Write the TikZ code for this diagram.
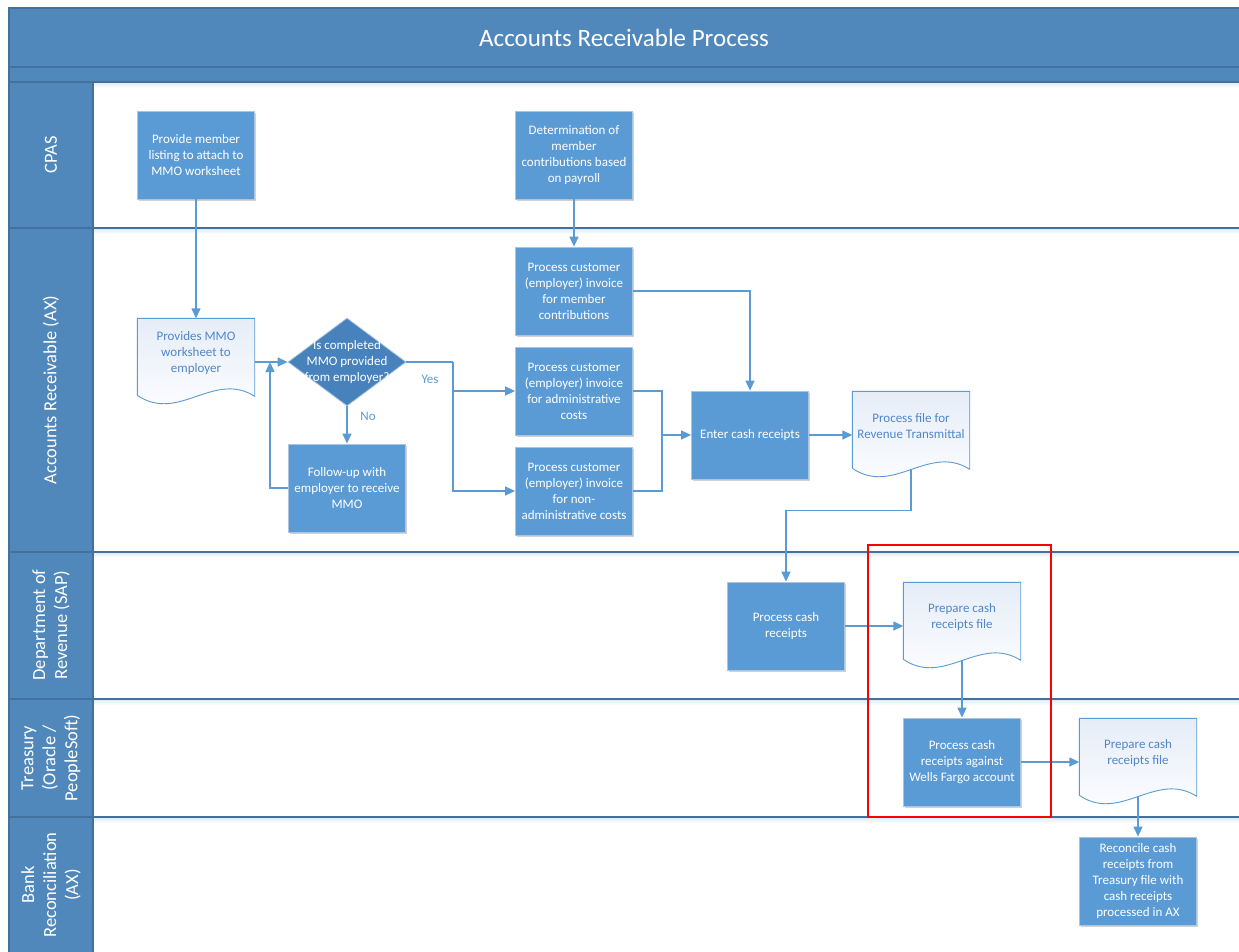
\documentclass[tikz,border=0pt]{standalone}
\usepackage{fontspec}
\setmainfont{Carlito}
\usetikzlibrary{shapes.geometric,arrows.meta,calc,shadows}
\definecolor{band}{RGB}{80,136,188}
\definecolor{laneline}{RGB}{65,113,156}
\definecolor{laneshadow}{RGB}{222,232,244}
\definecolor{boxfill}{RGB}{91,155,213}
\definecolor{boxedge}{RGB}{170,196,225}
\definecolor{diafill}{RGB}{72,130,188}
\definecolor{connc}{RGB}{91,155,213}
\definecolor{doctext}{RGB}{80,135,200}
\definecolor{docbg}{RGB}{230,237,248}

\tikzset{
  procbox/.style={rectangle, fill=boxfill, draw=boxedge, line width=0.8pt,
    minimum width=117pt, minimum height=88pt, inner sep=2pt, align=center,
    text=white, font=\fontsize{13}{16}\selectfont,
    drop shadow={shadow xshift=1.2pt, shadow yshift=-1.5pt, opacity=0.18, fill=black}},
  docbox/.style={rectangle, minimum width=117pt, minimum height=87pt, inner sep=0pt},
  docline/.style={draw=connc, line width=0.9pt, top color=docbg, bottom color=white},
  doctxt/.style={align=center, text=doctext, font=\fontsize{13}{16}\selectfont, inner sep=0pt},
  decision/.style={diamond, fill=diafill, draw=boxedge, line width=0.8pt,
    minimum width=118pt, minimum height=88pt, inner sep=0pt},
  link/.style={draw=connc, line width=1.4pt},
  arr/.style={link, -{Triangle[length=10pt,width=9pt]}},
  lanelbl/.style={rotate=90, text=white, align=center, font=\fontsize{18.5}{22}\selectfont},
  edgelbl/.style={text=connc, font=\fontsize{13}{16}\selectfont},
  sep/.style={draw=laneline, line width=1.3pt},
}

\newcommand{\docshape}[4]{%
  \node[docbox] (#1) at (#2,#3) {};
  \draw[docline] (#1.north west) -- (#1.north east) -- ($(#1.north east)+(0,78)$)
    .. controls ($(#1.north east)+(-41,52)$) and ($(#1.north west)+(41,105)$) ..
    ($(#1.north west)+(0,77)$) -- cycle;
  \coordinate (#1b) at ($(#1.north)+(0,78)$);
  \node[doctxt] (#1t) at ([yshift=9pt]#1.center) {#4};
}

\begin{document}
\begin{tikzpicture}[x=1pt,y=-1pt]
\useasboundingbox (0,0) rectangle (1239,951);
% frame
\fill[white] (0,0) rectangle (1239,951);
\fill[band] (9,8) rectangle (1239,960);
\fill[white] (93,82) rectangle (1239,960);
\foreach \yy in {82,228,552,699,817} {
  \shade[top color=laneshadow, bottom color=white] (93,\yy) rectangle (1239,\yy+6);
}
\draw[sep] (9,960) -- (9,8) -- (1239,8);
\draw[sep] (9,67) -- (1239,67);
\draw[sep] (9,82) -- (1239,82);
\draw[sep] (93,82) -- (93,960);
\foreach \yy in {228,552,699,817} {
  \draw[sep] (9,\yy) -- (1239,\yy);
}

% title and lane labels
\node[text=white, font=\fontsize{25}{30}\selectfont] (title) at (624,38) {Accounts Receivable Process};
\node[lanelbl] (l1) at (51,155) {CPAS};
\node[lanelbl] (l2) at (51,390) {Accounts Receivable (AX)};
\node[lanelbl] (l3) at (51,625) {Department of\\Revenue (SAP)};
\node[lanelbl] (l4) at (51,758) {Treasury\\(Oracle /\\PeopleSoft)};
\node[lanelbl] (l5) at (51,885) {Bank\\Reconciliation\\(AX)};

% nodes
\node[procbox] (p1) at (196,155) {Provide member\\listing to attach to\\MMO worksheet};
\node[procbox] (p2) at (574,155) {Determination of\\member\\contributions based\\on payroll};
\docshape{d3}{196}{362}{Provides MMO\\worksheet to\\employer}
\node[decision, label={[text=white, align=center, font=\fontsize{13}{16}\selectfont]center:Is completed\\MMO provided\\from employer?}] (dia) at (347,362) {};
\node[procbox] (p5) at (347,488) {Follow-up with\\employer to receive\\MMO};
\node[procbox] (p6) at (574,291) {Process customer\\(employer) invoice\\for member\\contributions};
\node[procbox] (p7) at (574,391) {Process customer\\(employer) invoice\\for administrative\\costs};
\node[procbox] (p8) at (574,491) {Process customer\\(employer) invoice\\for non-\\administrative costs};
\node[procbox] (p9) at (750,435) {Enter cash receipts};
\docshape{d10}{911}{435}{Process file for\\Revenue Transmittal}
\node[procbox] (p11) at (786,626) {Process cash\\receipts};
\docshape{d12}{962}{626}{Prepare cash\\receipts file}
\node[procbox] (p13) at (962,762) {Process cash\\receipts against\\Wells Fargo account};
\docshape{d14}{1138}{762}{Prepare cash\\receipts file}
\node[procbox] (p15) at (1138,881) {Reconcile cash\\receipts from\\Treasury file with\\cash receipts\\processed in AX};

\node[edgelbl] (yes) at (430,379) {Yes};
\node[edgelbl] (no) at (368,416) {No};

% helper coordinates
\coordinate (loopend) at (270,362);
\coordinate (ysplit) at (453,362);
\coordinate (msplit) at (662,435);

% connectors
\draw[arr] (p1.south) -- (d3.north);
\draw[arr] (p2.south) -- (p6.north);
\draw[arr] (d3.east) -- (dia.west);
\draw[arr] (dia.south) -- (p5.north);
\draw[arr] (p5.west) -| (loopend);
\draw[link] (dia.east) -- (ysplit);
\draw[arr] (ysplit) |- (p7.west);
\draw[arr] (ysplit) |- (p8.west);
\draw[arr] (p6.east) -| (p9.north);
\draw[link] (p7.east) -| (msplit);
\draw[link] (p8.east) -| (msplit);
\draw[arr] (msplit) -- (p9.west);
\draw[arr] (p9.east) -- (d10.west);
\draw[arr] (d10b) -- ++(0,41) -| (p11.north);
\draw[arr] (p11.east) -- (d12.west);
\draw[arr] (d12b) -- (p13.north);
\draw[arr] (p13.east) -- (d14.west);
\draw[arr] (d14b) -- (p15.north);

% highlight
\draw[red, line width=2.5pt] (868,545) rectangle (1051,817);
\end{tikzpicture}
\end{document}
